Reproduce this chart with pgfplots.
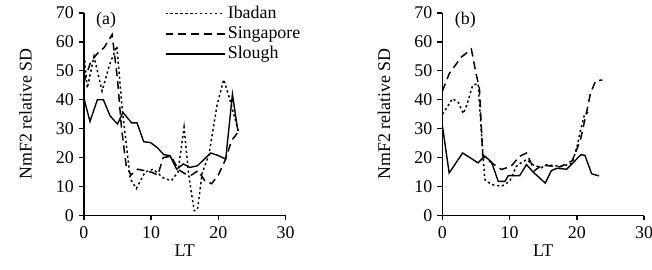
\documentclass[border=0pt]{standalone}
\usepackage{pgfplots}
\pgfplotsset{compat=1.18}
\usepackage{fontspec}
\setmainfont{Liberation Serif}
\begin{document}
\fontsize{18}{21}\selectfont
\pgfplotsset{
  myax/.style={
    scale only axis, width=203pt, height=204pt,
    xmin=0, xmax=30, ymin=0, ymax=70,
    xtick={0,10,20,30}, ytick={0,10,...,70},
    axis x line*=bottom, axis y line*=left,
    axis line style={line width=1.8pt,-},
    tick style={line width=1.4pt,black},
    tickwidth=5pt, tick align=outside,
    x axis line style={-}, y axis line style={-},
    /pgf/number format/assume math mode=true,
    ticklabel style={font=\fontsize{18}{21}\selectfont},
    yticklabel style={xshift=1pt},
    label style={font=\fontsize{18}{21}\selectfont},
    xlabel={LT}, ylabel={NmF2 relative SD},
    xlabel style={at={(axis description cs:0.5,-0.175)}, anchor=center},
    ylabel style={at={(axis description cs:-0.29,0.5)}, anchor=center},
    clip=false,
  },
  ibad/.style={black, line width=1.5pt, dash pattern=on 2.2pt off 2.8pt},
  sing/.style={black, line width=1.5pt, dash pattern=on 8pt off 5pt},
  slou/.style={black, line width=1.4pt},
}
\begin{tikzpicture}
\begin{axis}[myax,
  legend style={draw=none, fill=none, at={(axis description cs:0.4,1.045)}, anchor=north west,
    font=\fontsize{18}{21}\selectfont, row sep=1.5pt, inner sep=0pt},
  legend cell align=left,
  legend image code/.code={\draw[#1] (0pt,0pt) -- (45pt,0pt); \path (0pt,0pt) -- (60pt,0pt);},
]
\addplot[ibad] coordinates {(0,57) (0.5,44) (1.5,55) (2.7,43) (3.8,52) (4.9,58.5) (5.7,36.7) (6.9,12.7) (7.8,9.3) (9.1,15) (10.3,16) (11.8,13) (13,12) (14,15) (14.9,30.5) (15.6,14) (16.4,1.7) (16.9,2) (17.6,14.7) (18.6,21) (19.8,38) (20.8,47) (21.6,41) (22.3,35) (23,29)};
\addlegendentry{Ibadan}
\addplot[sing] coordinates {(0,46) (1,53) (2,56) (3,58) (4.2,62.5) (5,47) (5.6,30) (6.3,17) (7,14) (8,16) (9,15.5) (10,15) (11,14) (11.8,20) (13,20.5) (14,16) (15,14.5) (16,14) (17,15.5) (18,12) (19,11) (20,14) (21,19) (22,26) (23,29)};
\addlegendentry{Singapore}
\addplot[slou] coordinates {(0,40.5) (0.9,32.5) (2,40) (2.9,40) (3.9,34.4) (5,31.6) (5.8,35.6) (7.1,32) (7.9,32) (8.9,25.5) (9.9,25.2) (10.9,23.5) (11.9,21) (12.8,20.7) (13.8,16) (14.8,17.8) (15.8,16.6) (16.9,17.2) (17.9,19.5) (18.9,21.6) (20,20.7) (21.1,19.5) (22.1,41.9) (22.9,29.3)};
\addlegendentry{Slough}
\node[anchor=center] at (axis cs:3.3,67.5) {(a)};
\end{axis}
\begin{axis}[myax, at={(361pt,0pt)}]
\addplot[ibad] coordinates {(0,35) (0.3,36) (1.5,40.4) (2.4,39) (3.1,35.2) (3.6,38) (4.5,45) (5.3,45.6) (5.8,28.6) (6.3,12.4) (7.3,10.7) (8.8,10.1) (10,11.8) (11,17) (11.7,18.2) (12.5,19.3) (13.5,17.5) (14.7,16.5) (15.5,17.5) (17.7,17) (19.3,18) (20.1,24.5) (20.6,30) (21.1,34.5) (21.8,36)};
\addplot[sing] coordinates {(0,43) (1,49) (2.8,54.7) (4.3,57.5) (5,49) (5.5,44) (6,20.5) (7.3,18.2) (8.8,15.9) (10.2,17) (11.5,20.5) (12.5,21.6) (13.7,15.5) (14.8,17.4) (17.5,16.8) (19.3,18.9) (20.5,25.8) (21.5,36.3) (22,42) (22.8,46.6) (23.8,46.8)};
\addplot[slou] coordinates {(0,30.9) (1,14.7) (3,21.6) (5.3,18.2) (6.3,20.5) (7.3,18.5) (8.3,11.8) (9.3,11.8) (9.8,13.8) (11.5,13.8) (12.5,17.6) (13.5,15) (15.3,11.2) (16.2,15.5) (17,16.3) (18.5,16) (20.6,21) (21.2,20.8) (22.2,14.4) (23.3,13.7)};
\node[anchor=center] at (axis cs:3.4,67.5) {(b)};
\end{axis}
\pgfresetboundingbox
\useasboundingbox (-80pt,-54pt) rectangle (572pt,217pt);
\end{tikzpicture}
\end{document}
